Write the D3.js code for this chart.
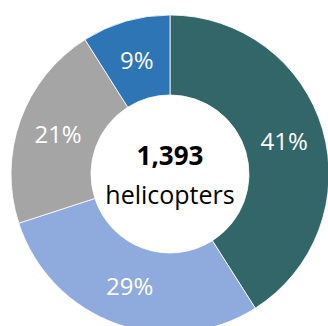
<!DOCTYPE html>
<html><head><meta charset="utf-8">
<script src="https://cdn.jsdelivr.net/npm/d3@7"></script>
<style>html,body{margin:0;padding:0;background:#fff;overflow:hidden}</style>
</head><body>
<svg id="chart" width="328" height="326"></svg>
<script>
const categories = ["A", "B", "C", "D"];
const counts = [571, 404, 293, 125];
const percentLabels = ["41%", "29%", "21%", "9%"];
const colors = ["#336669", "#8faadc", "#a5a5a5", "#2e75b6"];
const totalLabel = "1,393";
const unitLabel = "helicopters";

const svg = d3.select("#chart");
const cx = 170, cy = 174, outerR = 159, innerR = 79;
const g = svg.append("g").attr("transform", `translate(${cx},${cy})`);

const pie = d3.pie().value(d => d).sort(null);
const arcs = pie(counts);
const arc = d3.arc().innerRadius(innerR).outerRadius(outerR);

g.selectAll("path").data(arcs).join("path")
  .attr("d", arc)
  .attr("fill", (d, i) => colors[i])
  .attr("stroke", "#fff").attr("stroke-width", 0.8);

g.selectAll("text.lbl").data(arcs).join("text")
  .attr("class", "lbl")
  .attr("transform", d => `translate(${arc.centroid(d)})`)
  .attr("text-anchor", "middle")
  .attr("dominant-baseline", "central")
  .attr("font-family", "'Open Sans', sans-serif")
  .attr("font-size", 24)
  .attr("fill", "#fff")
  .text((d, i) => percentLabels[i]);

g.append("text").attr("x", 0).attr("y", -9)
  .attr("text-anchor", "middle")
  .attr("font-family", "'Open Sans', sans-serif")
  .attr("font-weight", "bold").attr("font-size", 26)
  .attr("fill", "#000").text(totalLabel);
g.append("text").attr("x", 0).attr("y", 30)
  .attr("text-anchor", "middle")
  .attr("font-family", "'Open Sans', sans-serif")
  .attr("font-size", 25)
  .attr("fill", "#000").text(unitLabel);
</script>
</body></html>
